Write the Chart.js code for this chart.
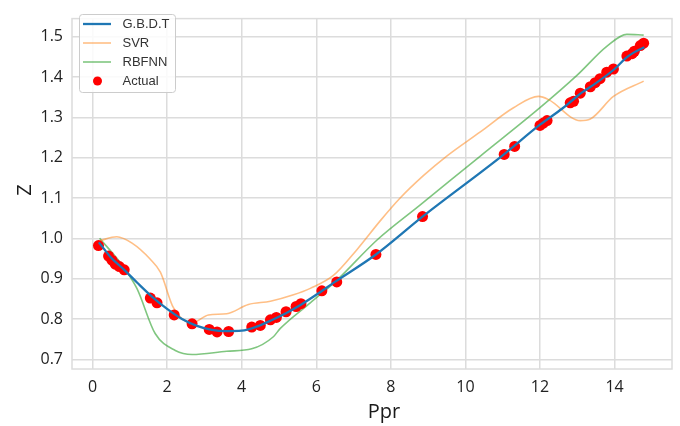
<!DOCTYPE html>
<html>
<head>
<meta charset="utf-8">
<script src="https://cdn.jsdelivr.net/npm/chart.js@4.4.1/dist/chart.umd.min.js"></script>
<style>
  html, body { margin: 0; padding: 0; background: #fff; }
  #wrap { width: 680px; height: 426px; }
</style>
</head>
<body>
<div id="wrap"><canvas id="myChart"></canvas></div>
<script>
// valores (Ppr no eixo x, Z no eixo y)
const gbdtX = [0.17, 0.5, 0.85, 1.2, 1.6, 2.0, 2.4, 2.8, 3.2, 3.6, 4.0, 4.4, 4.8, 5.2, 5.6, 6.0, 6.5, 7.6, 8.85, 11.0, 12.0, 12.6, 12.9, 13.1, 13.5, 14.0, 14.3, 14.5, 14.8];
const gbdtY = [0.99, 0.952, 0.922, 0.89, 0.855, 0.825, 0.80, 0.783, 0.773, 0.770, 0.771, 0.781, 0.797, 0.815, 0.836, 0.86, 0.892, 0.96, 1.054, 1.206, 1.282, 1.322, 1.345, 1.36, 1.385, 1.42, 1.447, 1.46, 1.474];

const svrX = [0.19, 0.65, 1.06, 1.55, 1.82, 2.17, 2.67, 3.11, 3.6, 4.18, 4.77, 5.39, 5.84, 6.46, 7.09, 7.72, 8.25, 8.88, 9.5, 10.4, 11.29, 11.96, 12.23, 13.08, 13.35, 13.97, 14.78];
const svrY = [0.994, 1.004, 0.988, 0.948, 0.916, 0.828, 0.790, 0.810, 0.813, 0.836, 0.844, 0.860, 0.876, 0.908, 0.972, 1.044, 1.100, 1.156, 1.204, 1.264, 1.324, 1.352, 1.344, 1.292, 1.296, 1.352, 1.390];

const rbfX = [0.19, 0.74, 1.19, 1.68, 2.22, 2.67, 3.6, 4.27, 4.85, 5.03, 5.84, 6.55, 7.63, 8.79, 10.4, 12.0, 12.99, 13.79, 14.33, 14.78];
const rbfY = [1.0, 0.940, 0.876, 0.764, 0.722, 0.712, 0.720, 0.726, 0.756, 0.776, 0.840, 0.896, 0.996, 1.083, 1.204, 1.324, 1.404, 1.476, 1.506, 1.504];

const actualX = [0.16, 0.43, 0.52, 0.61, 0.72, 0.85, 1.55, 1.73, 2.19, 2.67, 3.13, 3.34, 3.65, 4.27, 4.5, 4.77, 4.93, 5.19, 5.46, 5.59, 6.15, 6.55, 7.6, 8.85, 11.04, 11.32, 12.0, 12.09, 12.19, 12.81, 12.9, 13.08, 13.35, 13.48, 13.61, 13.79, 13.97, 14.33, 14.47, 14.53, 14.69, 14.78];
const actualY = [0.982, 0.956, 0.946, 0.936, 0.930, 0.922, 0.852, 0.840, 0.810, 0.788, 0.774, 0.768, 0.769, 0.780, 0.784, 0.798, 0.804, 0.818, 0.831, 0.838, 0.870, 0.892, 0.960, 1.054, 1.208, 1.228, 1.280, 1.286, 1.292, 1.336, 1.340, 1.360, 1.376, 1.386, 1.396, 1.412, 1.420, 1.452, 1.458, 1.464, 1.478, 1.484];

const xTicks = [0, 2, 4, 6, 8, 10, 12, 14];
const yTicks = [0.7, 0.8, 0.9, 1.0, 1.1, 1.2, 1.3, 1.4, 1.5];

// junta x e y em pontos
function pts(xs, ys) {
  return xs.map((x, i) => ({ x: x, y: ys[i] }));
}

const gridColor = '#dcdcdc';

// moldura, titulos dos eixos e legenda dentro da area do grafico
const extras = {
  id: 'extras',
  afterDraw(chart) {
    const c = chart.ctx;
    const a = chart.chartArea;
    c.save();
    c.strokeStyle = gridColor;
    c.lineWidth = 1.5;
    c.strokeRect(a.left, a.top, a.right - a.left, a.bottom - a.top);

    c.fillStyle = '#1a1a1a';
    c.font = '20px "Open Sans"';
    c.textAlign = 'center';
    c.textBaseline = 'alphabetic';
    c.fillText('Ppr', 384, 418);
    c.translate(31, 190);
    c.rotate(-Math.PI / 2);
    c.fillText('Z', 0, 0);
    c.restore();

    // legenda
    c.save();
    c.beginPath();
    c.roundRect(79.5, 14.5, 96, 78, 3);
    c.fillStyle = 'rgba(255,255,255,0.85)';
    c.fill();
    c.strokeStyle = '#cccccc';
    c.lineWidth = 1;
    c.stroke();
    const rows = [24, 43, 62, 81];
    c.font = '13px "Liberation Sans"';
    c.textAlign = 'left';
    c.textBaseline = 'middle';
    chart.data.datasets.forEach((ds, i) => {
      const y = rows[i];
      if (ds.showLine === false) {
        c.beginPath();
        c.arc(97.5, y, 4.5, 0, Math.PI * 2);
        c.fillStyle = ds.backgroundColor;
        c.fill();
      } else {
        c.beginPath();
        c.moveTo(83, y);
        c.lineTo(111, y);
        c.strokeStyle = ds.borderColor;
        c.lineWidth = ds.borderWidth;
        c.stroke();
      }
      c.fillStyle = '#333';
      c.fillText(ds.label, 122.5, y + 0.5);
    });
    c.restore();
  }
};

const ctx = document.getElementById('myChart');

new Chart(ctx, {
  type: 'scatter',
  data: {
    datasets: [
      {
        label: 'G.B.D.T',
        data: pts(gbdtX, gbdtY),
        showLine: true,
        borderColor: '#1f77b4',
        backgroundColor: '#1f77b4',
        borderWidth: 2.3,
        pointRadius: 0,
        cubicInterpolationMode: 'monotone',
        order: 0
      },
      {
        label: 'SVR',
        data: pts(svrX, svrY),
        showLine: true,
        borderColor: 'rgba(255,127,14,0.5)',
        backgroundColor: 'rgba(255,127,14,0.5)',
        borderWidth: 1.6,
        pointRadius: 0,
        cubicInterpolationMode: 'monotone',
        order: 2
      },
      {
        label: 'RBFNN',
        data: pts(rbfX, rbfY),
        showLine: true,
        borderColor: 'rgba(44,160,44,0.6)',
        backgroundColor: 'rgba(44,160,44,0.6)',
        borderWidth: 1.6,
        pointRadius: 0,
        cubicInterpolationMode: 'monotone',
        order: 3
      },
      {
        label: 'Actual',
        data: pts(actualX, actualY),
        showLine: false,
        backgroundColor: '#ff0000',
        borderColor: '#ff0000',
        borderWidth: 0,
        pointRadius: 5.5,
        order: 1
      }
    ]
  },
  plugins: [extras],
  options: {
    responsive: true,
    maintainAspectRatio: false,
    animation: false,
    events: [],
    layout: { padding: { left: 0, right: 8, top: 7, bottom: 0 } },
    plugins: {
      legend: { display: false },
      tooltip: { enabled: false }
    },
    scales: {
      x: {
        type: 'linear',
        min: -0.55,
        max: 15.54,
        afterFit(s) { s.height = 57; },
        afterBuildTicks(s) { s.ticks = xTicks.map(v => ({ value: v })); },
        border: { display: false },
        grid: { color: gridColor, lineWidth: 1.5, drawTicks: false },
        ticks: {
          padding: 9,
          color: '#222',
          font: { family: 'Open Sans', size: 16 },
          callback: v => String(v)
        }
      },
      y: {
        min: 0.676,
        max: 1.545,
        afterFit(s) { s.width = 72; },
        afterBuildTicks(s) { s.ticks = yTicks.map(v => ({ value: v })); },
        border: { display: false },
        grid: { color: gridColor, lineWidth: 1.5, drawTicks: false },
        ticks: {
          padding: 9,
          color: '#222',
          font: { family: 'Open Sans', size: 16 },
          callback: v => Number(v).toFixed(1)
        }
      }
    }
  }
});
</script>
</body>
</html>
